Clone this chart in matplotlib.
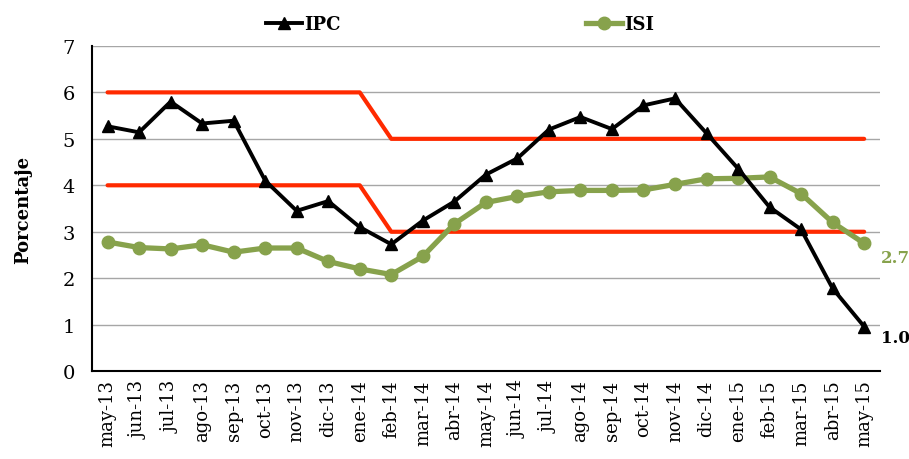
import matplotlib
matplotlib.use("Agg")
import matplotlib.pyplot as plt

months = ["may-13", "jun-13", "jul-13", "ago-13", "sep-13", "oct-13", "nov-13", "dic-13",
          "ene-14", "feb-14", "mar-14", "abr-14", "may-14", "jun-14", "jul-14", "ago-14",
          "sep-14", "oct-14", "nov-14", "dic-14", "ene-15", "feb-15", "mar-15", "abr-15", "may-15"]
ipc = [5.27, 5.14, 5.80, 5.33, 5.39, 4.10, 3.45, 3.66, 3.10, 2.73, 3.24, 3.65, 4.23, 4.58,
       5.20, 5.47, 5.21, 5.72, 5.87, 5.12, 4.36, 3.53, 3.05, 1.78, 0.96]
isi = [2.78, 2.66, 2.63, 2.72, 2.56, 2.65, 2.65, 2.36, 2.20, 2.08, 2.47, 3.17, 3.63, 3.76,
       3.86, 3.89, 3.89, 3.90, 4.02, 4.14, 4.15, 4.18, 3.82, 3.20, 2.75]
band_upper = [6]*9 + [5]*16
band_lower = [4]*9 + [3]*16
yticks = [0, 1, 2, 3, 4, 5, 6, 7]
last_labels = ["1.0", "2.7"]

fig = plt.figure(figsize=(9.09, 4.60), dpi=100)
ax = fig.add_axes([0.101, 0.191, 0.867, 0.707])

x = list(range(len(months)))
for yv in yticks[1:]:
    ax.axhline(yv, color="#a6a6a6", lw=1.0, zorder=0)

ax.plot(x, band_upper, color="#ff2a00", lw=3, zorder=2, solid_capstyle="round")
ax.plot(x, band_lower, color="#ff2a00", lw=3, zorder=2, solid_capstyle="round")
l1, = ax.plot(x, ipc, color="black", lw=2.8, marker="^", markersize=9, zorder=4, label="IPC")
l2, = ax.plot(x, isi, color="#87a24c", lw=3.8, marker="o", markersize=9, zorder=3, label="ISI")

ax.set_xlim(-0.5, len(months) - 0.5)
ax.set_ylim(0, 7)
ax.set_yticks(yticks)
ax.set_yticklabels([str(v) for v in yticks], family="DejaVu Serif", fontsize=14)
ax.set_xticks(x)
ax.set_xticklabels(months, rotation=90, family="DejaVu Serif", fontsize=13)
ax.tick_params(axis="both", length=0, pad=12)
ax.tick_params(axis="x", pad=6)

for s in ["top", "right"]:
    ax.spines[s].set_visible(False)
ax.spines["left"].set_linewidth(1.5)
ax.spines["bottom"].set_linewidth(1.5)

ax.set_ylabel("Porcentaje", family="DejaVu Serif", fontweight="bold", fontsize=13, labelpad=22)

ax.annotate(last_labels[0], xy=(x[-1], ipc[-1]), xytext=(12, -8), textcoords="offset points",
            fontsize=12, fontweight="bold", family="DejaVu Serif", color="black", va="center")
ax.annotate(last_labels[1], xy=(x[-1], isi[-1]), xytext=(12, -10), textcoords="offset points",
            fontsize=12, fontweight="bold", family="DejaVu Serif", color="#87a24c", va="center")

leg = fig.legend(handles=[l1, l2], loc="upper left", bbox_to_anchor=(0.275, 1.0), ncol=2,
                 frameon=False, columnspacing=13.6, handlelength=2.0, handletextpad=0.1,
                 prop={"family": "DejaVu Serif", "weight": "bold", "size": 13})

fig.savefig("out.png", dpi=100)
